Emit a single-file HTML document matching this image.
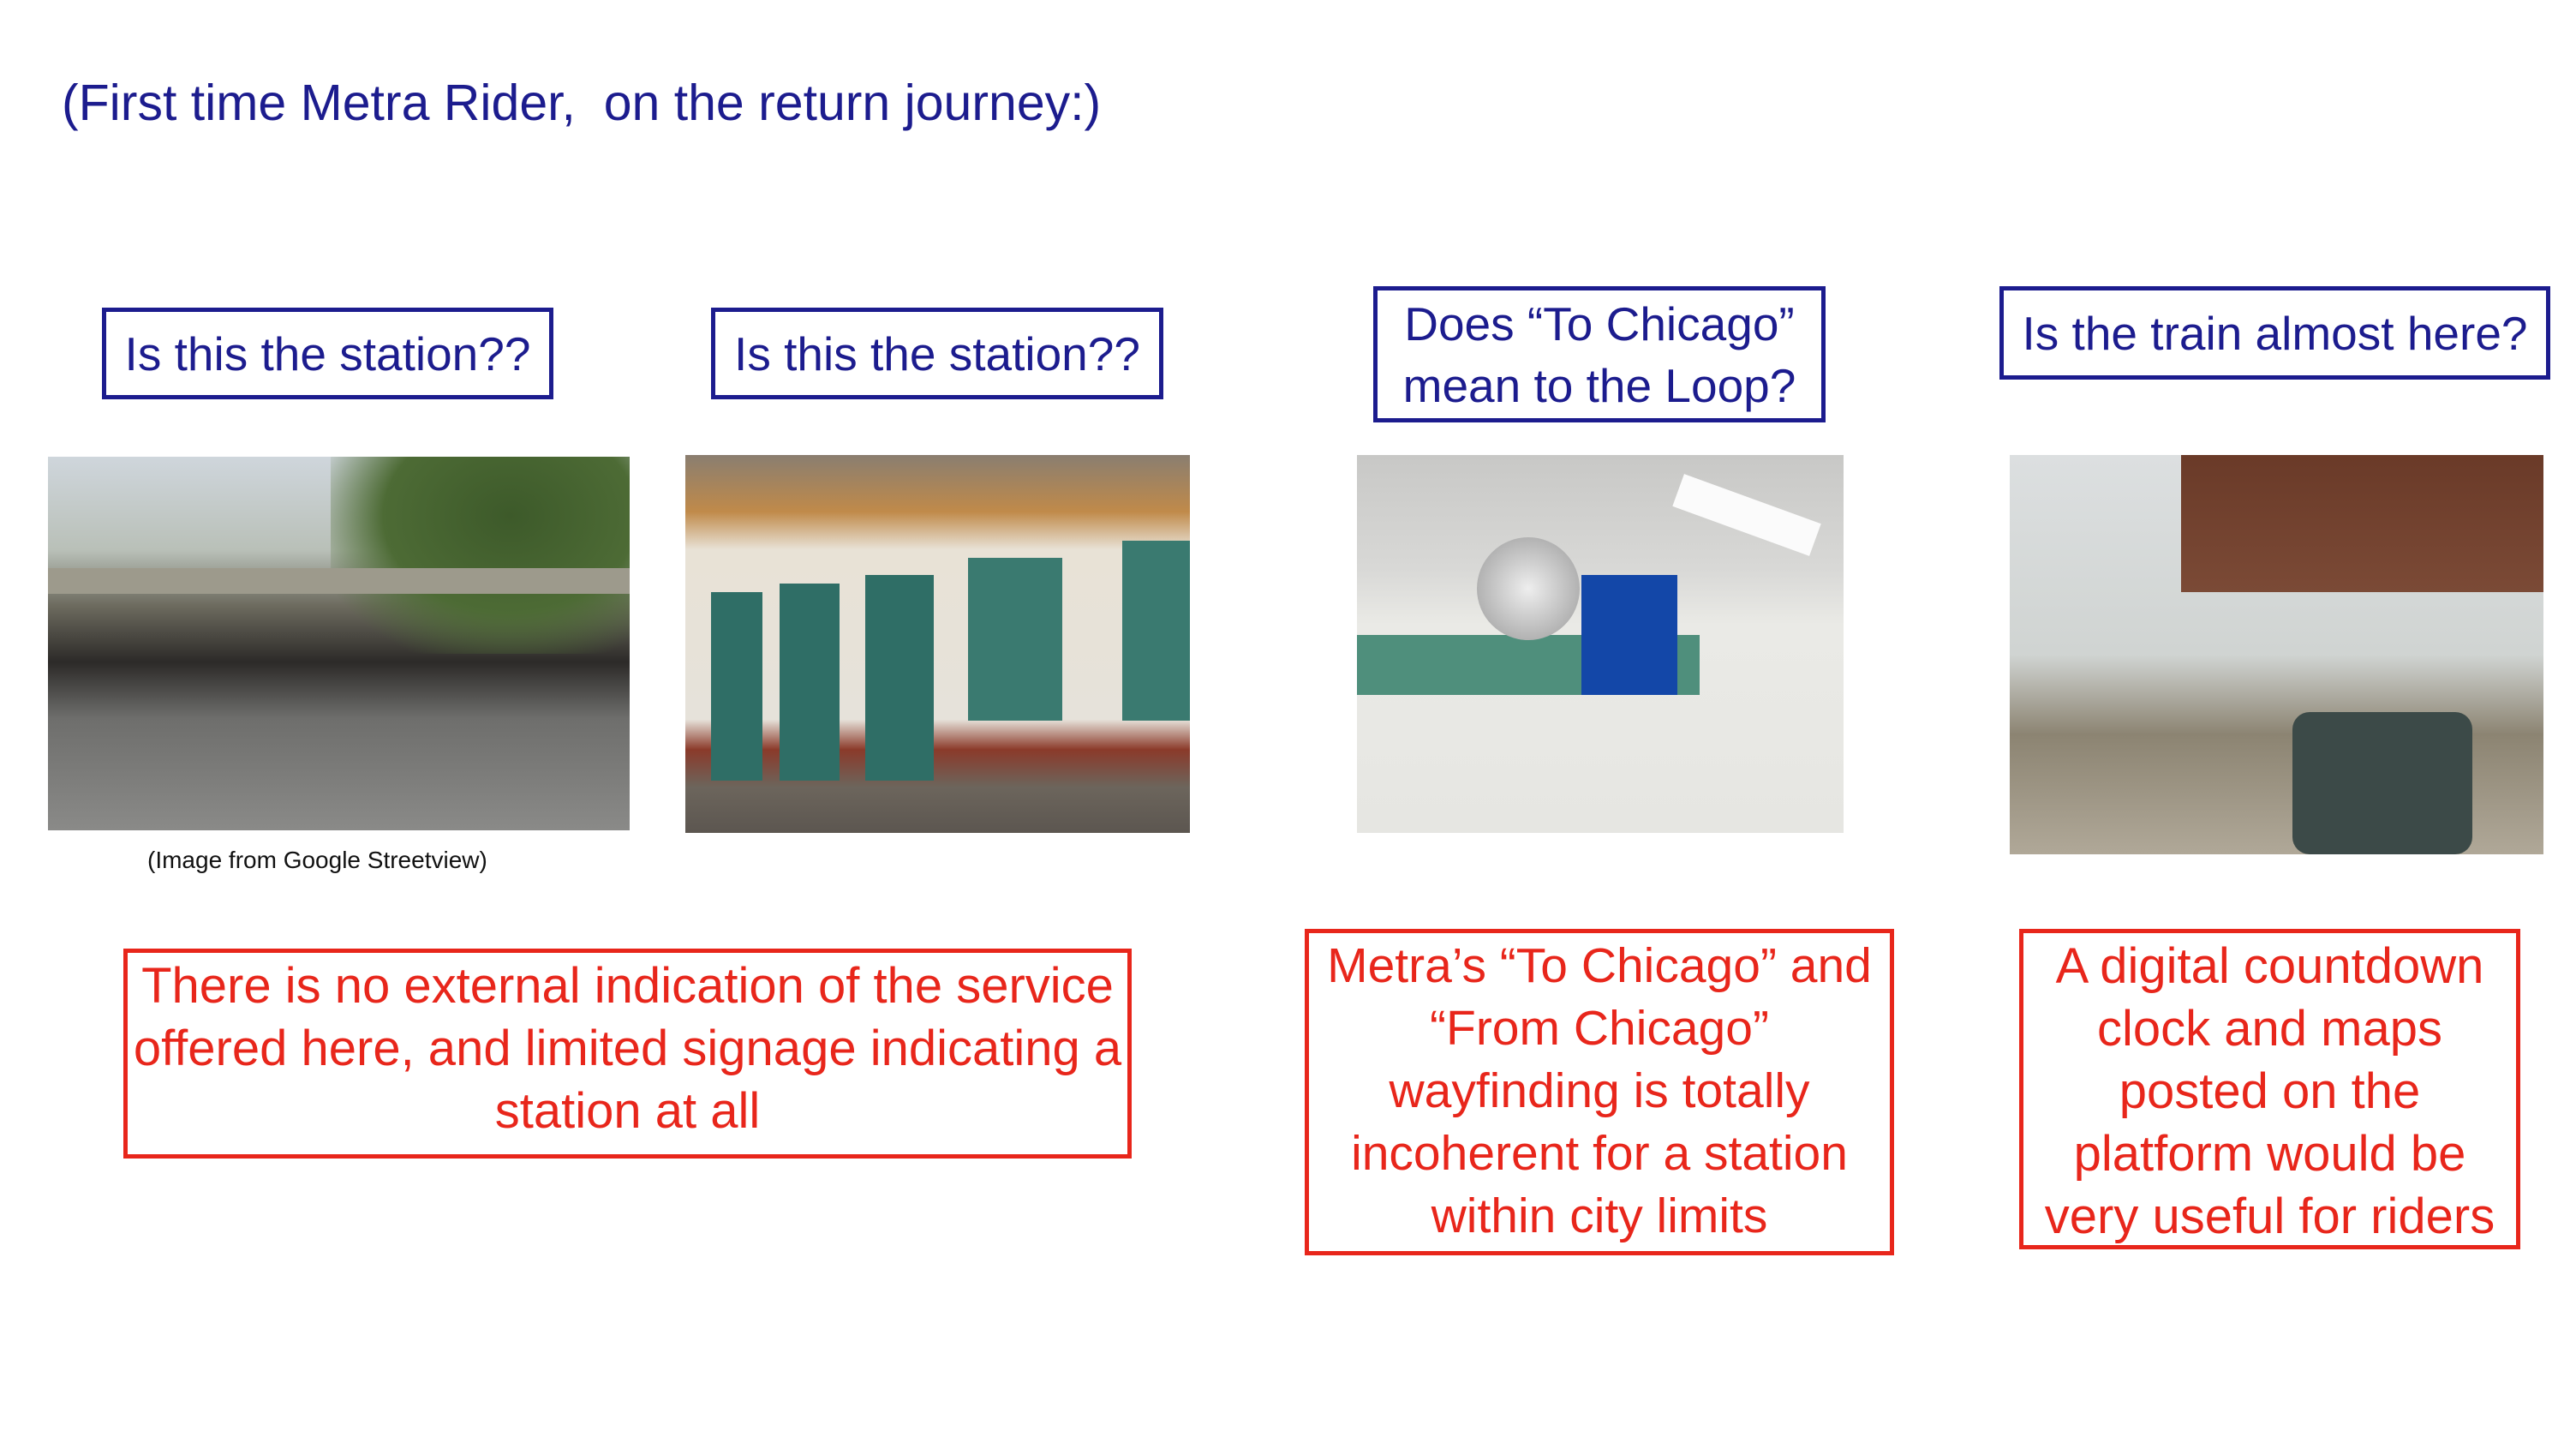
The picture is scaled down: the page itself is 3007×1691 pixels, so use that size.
<!DOCTYPE html>
<html><head><meta charset="utf-8"><style>
html,body{margin:0;padding:0;background:#fff;}
body{width:3007px;height:1691px;position:relative;overflow:hidden;font-family:"Liberation Sans",sans-serif;}
.t{position:absolute;color:#1c1c8e;}
.bb{position:absolute;border:5px solid #1c1c8e;box-sizing:border-box;color:#1c1c8e;display:flex;align-items:center;justify-content:center;text-align:center;font-size:55px;line-height:72px;white-space:nowrap;}
.rb{position:absolute;border:5px solid #e8261b;box-sizing:border-box;color:#e8261b;text-align:center;font-size:58px;line-height:73px;padding-top:2px;white-space:nowrap;}
.ph{position:absolute;overflow:hidden;}
</style></head><body>
<div class="t" style="left:72px;top:86px;font-size:59px;">(First time Metra Rider,&nbsp; on the return journey:)</div>

<div class="bb" style="left:119px;top:359px;width:527px;height:107px;">Is this the station??</div>
<div class="bb" style="left:830px;top:359px;width:528px;height:107px;">Is this the station??</div>
<div class="bb" style="left:1603px;top:334px;width:528px;height:159px;">Does “To Chicago”<br>mean to the Loop?</div>
<div class="bb" style="left:2334px;top:334px;width:643px;height:109px;">Is the train almost here?</div>

<div class="ph" style="left:56px;top:533px;width:679px;height:436px;background:linear-gradient(180deg,#cfd6dc 0%,#b9c0b8 25%,#6c6a5e 40%,#2c2a28 55%,#6e6e6c 70%,#8a8a88 100%);">
 <div style="position:absolute;left:330px;top:0;width:349px;height:230px;background:radial-gradient(ellipse at 60% 30%,#3d5a2a,#4d6b35 50%,rgba(80,100,60,0) 80%);"></div>
 <div style="position:absolute;left:0;top:130px;width:679px;height:30px;background:#9d9a8c;"></div>
</div>
<div class="t" style="left:172px;top:988px;font-size:28px;color:#111;">(Image from Google Streetview)</div>

<div class="ph" style="left:800px;top:531px;width:589px;height:441px;background:linear-gradient(180deg,#8a7e70 0%,#c08a4a 15%,#e8e2d6 25%,#e6e2da 70%,#8b3a2a 78%,#6c655c 88%,#5c5650 100%);">
 <div style="position:absolute;left:30px;top:160px;width:60px;height:220px;background:#2f6e66;"></div>
 <div style="position:absolute;left:110px;top:150px;width:70px;height:230px;background:#2f6e66;"></div>
 <div style="position:absolute;left:210px;top:140px;width:80px;height:240px;background:#2f6e66;"></div>
 <div style="position:absolute;left:330px;top:120px;width:110px;height:190px;background:#3a7a70;"></div>
 <div style="position:absolute;left:510px;top:100px;width:79px;height:210px;background:#3a7a70;"></div>
</div>

<div class="ph" style="left:1584px;top:531px;width:568px;height:441px;background:linear-gradient(180deg,#c8c8c6 0%,#d8d8d6 30%,#eaeae6 45%,#e6e6e2 100%);">
 <div style="position:absolute;left:0;top:210px;width:400px;height:70px;background:#4f8f7c;"></div>
 <div style="position:absolute;left:140px;top:96px;width:120px;height:120px;border-radius:50%;background:radial-gradient(circle,#eee,#999);"></div>
 <div style="position:absolute;left:262px;top:140px;width:112px;height:140px;background:#1347a8;"></div>
 <div style="position:absolute;left:370px;top:50px;width:170px;height:40px;background:#fbfbfb;transform:rotate(20deg);"></div>
</div>

<div class="ph" style="left:2346px;top:531px;width:623px;height:466px;background:linear-gradient(180deg,#dcdfe0 0%,#d0d4d2 50%,#8c8472 70%,#b0a898 100%);">
 <div style="position:absolute;left:200px;top:0;width:423px;height:160px;background:linear-gradient(180deg,#6a3a28,#7b4a36);"></div>
 <div style="position:absolute;left:330px;top:300px;width:210px;height:166px;background:#3c4a48;border-radius:20px;"></div>
</div>

<div class="rb" style="left:144px;top:1107px;width:1177px;height:245px;">There is no external indication of the service<br>offered here, and limited signage indicating a<br>station at all</div>
<div class="rb" style="left:1523px;top:1084px;width:688px;height:381px;font-size:57px;">Metra’s “To Chicago” and<br>“From Chicago”<br>wayfinding is totally<br>incoherent for a station<br>within city limits</div>
<div class="rb" style="left:2357px;top:1084px;width:585px;height:374px;">A digital countdown<br>clock and maps<br>posted on the<br>platform would be<br>very useful for riders</div>
</body></html>
